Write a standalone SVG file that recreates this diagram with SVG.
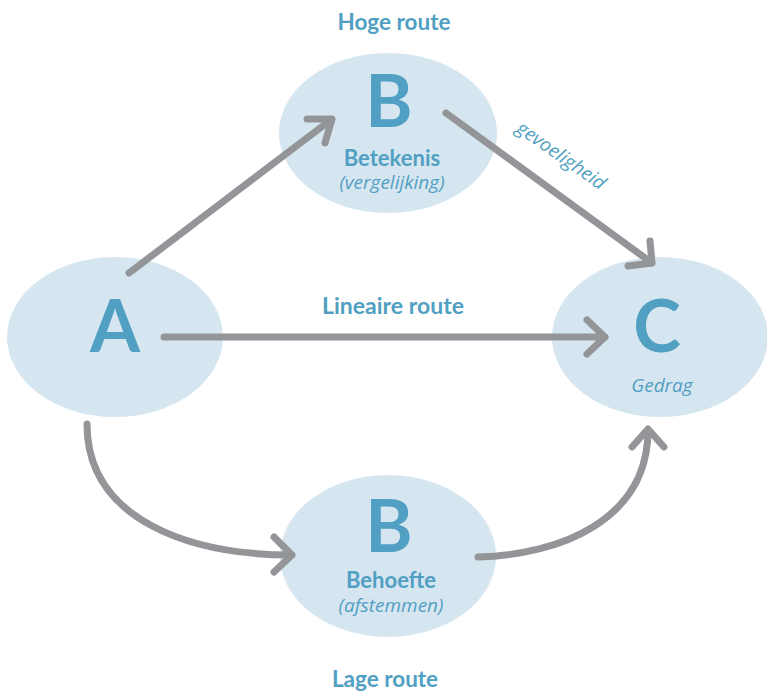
<svg xmlns="http://www.w3.org/2000/svg" width="767" height="691" viewBox="0 0 767 691">
  <style>
    .node { fill: #d6e6f1; }
    .t { fill: #519fc2; font-family: Lato, "Open Sans", "Liberation Sans", sans-serif; text-anchor: middle; }
    .big { font-size: 72px; font-weight: 700; }
    .lbl { font-size: 22px; font-weight: 700; }
    .route { font-size: 22.5px; font-weight: 700; }
    .sub { font-family: "Open Sans", Lato, sans-serif; font-size: 19px; font-style: italic; }
    .conn { fill: none; stroke: #939598; stroke-width: 7; stroke-linecap: round; stroke-linejoin: round; }
  </style>
  <rect width="767" height="691" fill="#ffffff"/>
  <g id="node-A">
    <ellipse class="node" cx="115" cy="337" rx="108" ry="80"/>
    <text class="t big" x="115" y="352">A</text>
  </g>
  <g id="node-B-top">
    <ellipse class="node" cx="388" cy="133" rx="109" ry="80"/>
    <text class="t big" x="389" y="127">B</text>
    <text class="t lbl" x="392" y="166">Betekenis</text>
    <text class="t sub" x="392" y="189">(vergelijking)</text>
  </g>
  <g id="node-C">
    <ellipse class="node" cx="660" cy="337" rx="108" ry="80"/>
    <text class="t big" x="657" y="352">C</text>
    <text class="t sub" x="662" y="392">Gedrag</text>
  </g>
  <g id="node-B-bottom">
    <ellipse class="node" cx="388" cy="556" rx="108" ry="81"/>
    <text class="t big" x="389" y="552">B</text>
    <text class="t lbl" x="391" y="588">Behoefte</text>
    <text class="t sub" x="391" y="612">(afstemmen)</text>
  </g>
  <g id="labels">
    <text class="t route" x="394" y="30">Hoge route</text>
    <text class="t route" x="393" y="314" style="font-size:23px">Lineaire route</text>
    <text class="t route" x="385" y="687">Lage route</text>
    <text class="t sub" x="515" y="131" style="text-anchor:start" transform="rotate(35 515 131)">gevoeligheid</text>
  </g>
  <g id="connectors">
    <path class="conn" d="M129,273 L332,119 M307,119 L332,119 L325,143"/>
    <path class="conn" d="M446,113 L652,263 M628,266 L652,263 L650,241"/>
    <path class="conn" d="M164,337 L605,337 M587,320 L605,337 L587,354"/>
    <path class="conn" d="M87,424 C87,520 190,555 292,555 M274,537 L292,555 L274,572"/>
    <path class="conn" d="M478,557 C560,555 648,520 648,430 M632,447 L648,429 L664,447"/>
  </g>
</svg>
